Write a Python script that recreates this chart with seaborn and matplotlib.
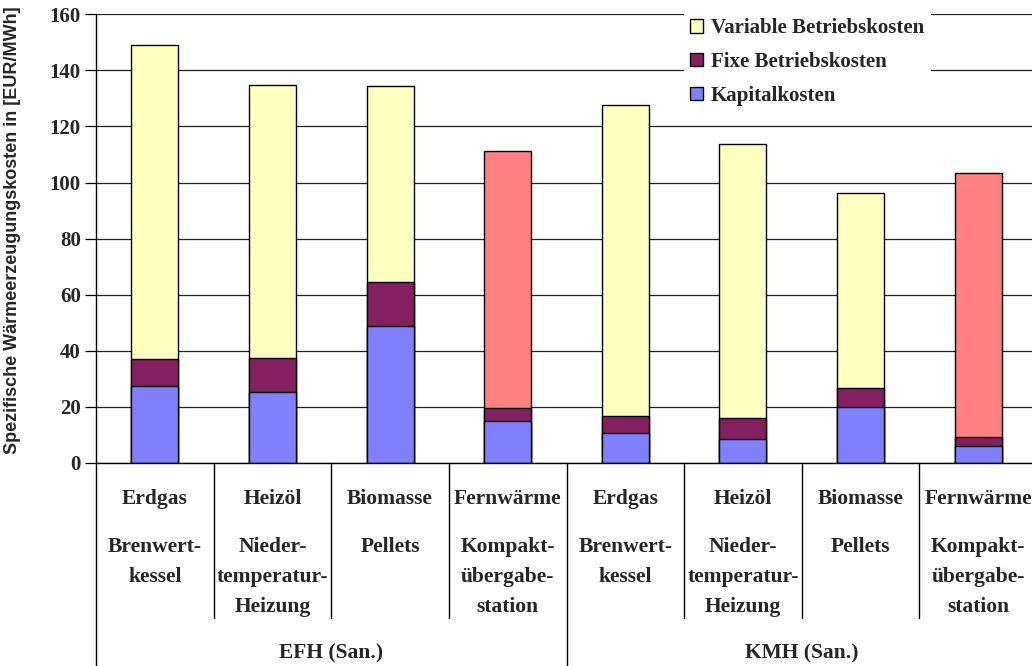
import matplotlib
matplotlib.use("Agg")
import matplotlib.pyplot as plt
import matplotlib.transforms as mtransforms
from matplotlib.patches import Patch
from matplotlib.lines import Line2D
import numpy as np
import pandas as pd
import seaborn as sns

# ---- data -------------------------------------------------------------
groups = ["EFH (San.)", "KMH (San.)"]
energy_carriers = ["Erdgas", "Heizöl", "Biomasse", "Fernwärme"]
technologies = ["Brenwert-\nkessel", "Nieder-\ntemperatur-\nHeizung", "Pellets",
                "Kompakt-\nübergabe-\nstation"]

kapitalkosten = [27.4, 25.3, 49.0, 14.9, 10.8, 8.7, 19.9, 5.9]
fixe_betriebskosten = [9.6, 12.2, 15.5, 4.6, 5.8, 7.2, 7.0, 3.5]
variable_betriebskosten = [111.9, 97.3, 69.8, 91.7, 111.1, 97.8, 69.3, 93.9]

yticks = [0, 20, 40, 60, 80, 100, 120, 140, 160]

# ---- styling ----------------------------------------------------------
c_kap = "#8080FF"
c_fix = "#842060"
c_var = "#FFFFC0"
c_fern = "#FF8080"
serif = "Liberation Serif"
sans = "Liberation Sans"

sns.set_theme(style="white")
plt.rcParams["font.family"] = [serif, "DejaVu Serif"]

keys = [f"{g}|{e}" for g in groups for e in energy_carriers]
df = pd.DataFrame({
    "key": keys,
    "kap": kapitalkosten,
    "fix": fixe_betriebskosten,
    "var": variable_betriebskosten,
})
df["lvl1"] = df["kap"]
df["lvl2"] = df["kap"] + df["fix"]
df["lvl3"] = df["lvl2"] + df["var"]

var_colors = {k: (c_fern if k.endswith("Fernwärme") else c_var) for k in keys}

fig = plt.figure(figsize=(10.32, 6.66), dpi=100)
ax_left, ax_right = 96 / 1032, 1037 / 1032
ax_bottom, ax_top = (666 - 463) / 666, (666 - 14.3) / 666
ax = fig.add_axes([ax_left, ax_bottom, ax_right - ax_left, ax_top - ax_bottom])

ax.set_axisbelow(True)
ax.yaxis.grid(True, color="#222222", linewidth=0.9)

bar_kw = dict(order=keys, width=0.4, edgecolor="black", linewidth=1.0,
              saturation=1, dodge=False, legend=False, ax=ax)
# stacked bars: draw cumulative totals from the top layer downwards
sns.barplot(data=df, x="key", y="lvl3", hue="key", palette=var_colors, **bar_kw)
sns.barplot(data=df, x="key", y="lvl2", hue="key",
            palette={k: c_fix for k in keys}, **bar_kw)
sns.barplot(data=df, x="key", y="lvl1", hue="key",
            palette={k: c_kap for k in keys}, **bar_kw)

ax.set_xlim(-0.5, len(keys) - 0.5)
ax.set_ylim(0, 160)
ax.set_yticks(yticks)
ax.set_yticklabels([str(v) for v in yticks], fontsize=15, fontweight="bold",
                   family=serif)
ax.tick_params(axis="y", which="major", length=8, width=0.9, color="black",
               direction="out", left=True, pad=3)
ax.set_xticks([])
ax.set_xlabel("")
ax.set_ylabel("")
for side in ["top", "right"]:
    ax.spines[side].set_visible(False)
for side in ["left", "bottom"]:
    ax.spines[side].set_color("black")
    ax.spines[side].set_linewidth(1.0)

fig.text(13 / 1032, (666 - 230) / 666,
         "Spezifische Wärmeerzeugungskosten in [EUR/MWh]",
         rotation=90, ha="center", va="center", fontsize=13,
         fontweight="bold", family=sans)

# ---- multi-level category axis ----------------------------------------
trans = mtransforms.blended_transform_factory(ax.transData, fig.transFigure)


def fy(py):
    return (666 - py) / 666


label_kw = dict(transform=trans, ha="center", va="center", fontsize=15.5,
                fontweight="bold", family=serif, clip_on=False)
n = len(energy_carriers)
for gi, g in enumerate(groups):
    for ci, (carrier, tech) in enumerate(zip(energy_carriers, technologies)):
        x = gi * n + ci
        ax.text(x, fy(499), carrier, **label_kw)
        for li, line in enumerate(tech.split("\n")):
            ax.text(x, fy(547 + 30 * li), line, **label_kw)
    ax.text(gi * n + (n - 1) / 2, fy(653), g, **label_kw)

# separators below the axis
for x in np.arange(-0.5, len(keys), 1.0):
    is_group_edge = abs(((x + 0.5) % n)) < 1e-9
    y_end = fy(666) if is_group_edge else fy(618)
    fig.add_artist(Line2D([x, x], [ax_bottom, y_end], transform=trans,
                          color="black", linewidth=1.0, clip_on=False))

# ---- legend -----------------------------------------------------------
handles = [
    Patch(facecolor=c_var, edgecolor="black", linewidth=1.0),
    Patch(facecolor=c_fix, edgecolor="black", linewidth=1.0),
    Patch(facecolor=c_kap, edgecolor="black", linewidth=1.0),
]
labels = ["Variable Betriebskosten", "Fixe Betriebskosten", "Kapitalkosten"]
leg = fig.legend(handles, labels, loc="upper left",
                 bbox_to_anchor=(684 / 1032, fy(12)),
                 prop={"family": serif, "weight": "bold", "size": 15},
                 frameon=True, fancybox=False, framealpha=1.0,
                 facecolor="white", edgecolor="white",
                 handlelength=0.6, handleheight=0.6, handletextpad=0.4,
                 labelspacing=0.66, borderpad=0.3, borderaxespad=0)
leg.get_frame().set_linewidth(0)

fig.savefig("out.png", dpi=100)
